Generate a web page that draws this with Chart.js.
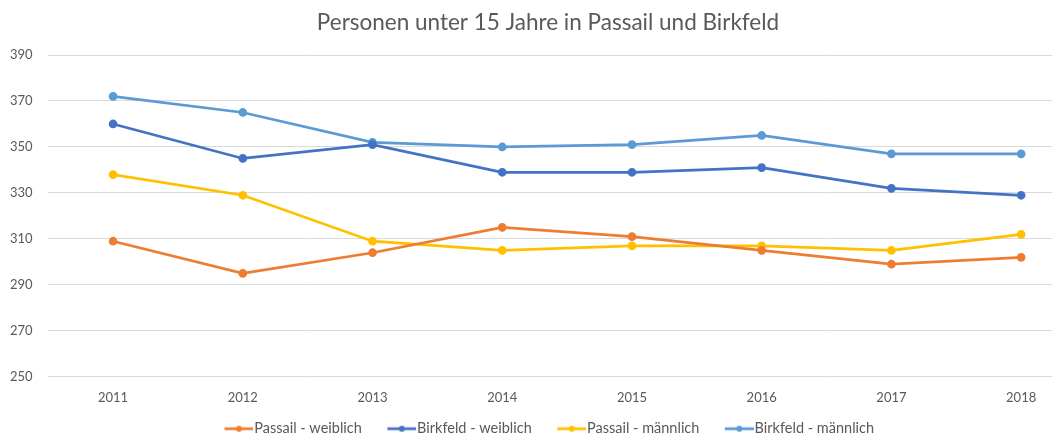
<!DOCTYPE html>
<html lang="de">
<head>
  <meta charset="UTF-8">
  <title>Personen unter 15 Jahre in Passail und Birkfeld</title>
  <script src="https://cdn.jsdelivr.net/npm/chart.js"></script>
  <style>
    html, body {
      margin: 0;
      padding: 0;
      overflow: hidden;
      background: #fff;
    }
    /* the original chart is a bit larger than the visible window and gets cropped */
    .chart-container {
      position: relative;
      width: 1100px;
      height: 446px;
    }
  </style>
</head>
<body>
  <div class="chart-container">
    <canvas id="kidsChart"></canvas>
  </div>

  <script>
    // Werte
    const years = ['2011', '2012', '2013', '2014', '2015', '2016', '2017', '2018'];
    const passailWeiblich = [309, 295, 304, 315, 311, 305, 299, 302];
    const birkfeldWeiblich = [360, 345, 351, 339, 339, 341, 332, 329];
    const passailMaennlich = [338, 329, 309, 305, 307, 307, 305, 312];
    const birkfeldMaennlich = [372, 365, 352, 350, 351, 355, 347, 347];
    const yTicks = [250, 270, 290, 310, 330, 350, 370, 390];

    const seriesNames = ['Passail - weiblich', 'Birkfeld - weiblich', 'Passail - männlich', 'Birkfeld - männlich'];
    const seriesColors = ['#ED7D31', '#4472C4', '#FFC000', '#5B9BD5'];
    const seriesData = [passailWeiblich, birkfeldWeiblich, passailMaennlich, birkfeldMaennlich];

    const textColor = '#595959';
    const fontFamily = "Lato, 'Open Sans', sans-serif";

    // line-with-dot icon for the legend, like in Excel.
    // The canvas has empty space on the left so the line sits right before the text.
    function legendIcon(color) {
      const c = document.createElement('canvas');
      c.width = 58;
      c.height = 8;
      const g = c.getContext('2d');
      g.strokeStyle = color;
      g.lineWidth = 2.75;
      g.beginPath();
      g.moveTo(29, 4);
      g.lineTo(58, 4);
      g.stroke();
      g.fillStyle = color;
      g.beginPath();
      g.arc(43.5, 4, 3, 0, Math.PI * 2);
      g.fill();
      return c;
    }

    // the empty part of the icons pushes the legend to the right, move it back
    const legendNudge = {
      id: 'legendNudge',
      afterLayout(chart) {
        chart.legend.left -= 10;
        chart.legend.right -= 10;
      }
    };

    const datasets = seriesNames.map((name, i) => ({
      label: name,
      data: seriesData[i],
      borderColor: seriesColors[i],
      backgroundColor: seriesColors[i],
      borderWidth: 2.75,
      pointRadius: 3,
      pointHoverRadius: 4,
      tension: 0,
      legendIcon: legendIcon(seriesColors[i])
    }));

    new Chart(document.getElementById('kidsChart'), {
      type: 'line',
      data: { labels: years, datasets: datasets },
      plugins: [legendNudge],
      options: {
        responsive: true,
        maintainAspectRatio: false,
        animation: false,
        layout: { padding: { left: 10, right: 14, top: 0, bottom: 0 } },
        plugins: {
          title: {
            display: true,
            text: 'Personen unter 15 Jahre in Passail und Birkfeld',
            color: textColor,
            font: { family: fontFamily, size: 22.5, weight: 'normal' },
            padding: { top: 9, bottom: 19 }
          },
          legend: {
            position: 'bottom',
            labels: {
              color: textColor,
              font: { family: fontFamily, size: 14.5 },
              usePointStyle: true,
              pointStyleWidth: 45,
              padding: 3,
              generateLabels: function(chart) {
                return chart.data.datasets.map((ds, i) => ({
                  text: ds.label,
                  fontColor: textColor,
                  pointStyle: ds.legendIcon,
                  datasetIndex: i,
                  hidden: !chart.isDatasetVisible(i)
                }));
              }
            }
          },
          tooltip: { enabled: true }
        },
        scales: {
          x: {
            offset: true,
            grid: { display: false, drawTicks: false },
            border: { display: false },
            ticks: {
              color: textColor,
              font: { family: fontFamily, size: 13 },
              padding: 13
            }
          },
          y: {
            min: 250,
            max: 390,
            afterBuildTicks: function(axis) {
              axis.ticks = yTicks.map(v => ({ value: v }));
            },
            grid: { color: '#d9d9d9', drawTicks: false },
            border: { display: false },
            ticks: {
              color: textColor,
              font: { family: fontFamily, size: 13 },
              crossAlign: 'far',
              padding: 7.8
            }
          }
        }
      }
    });
  </script>
</body>
</html>
